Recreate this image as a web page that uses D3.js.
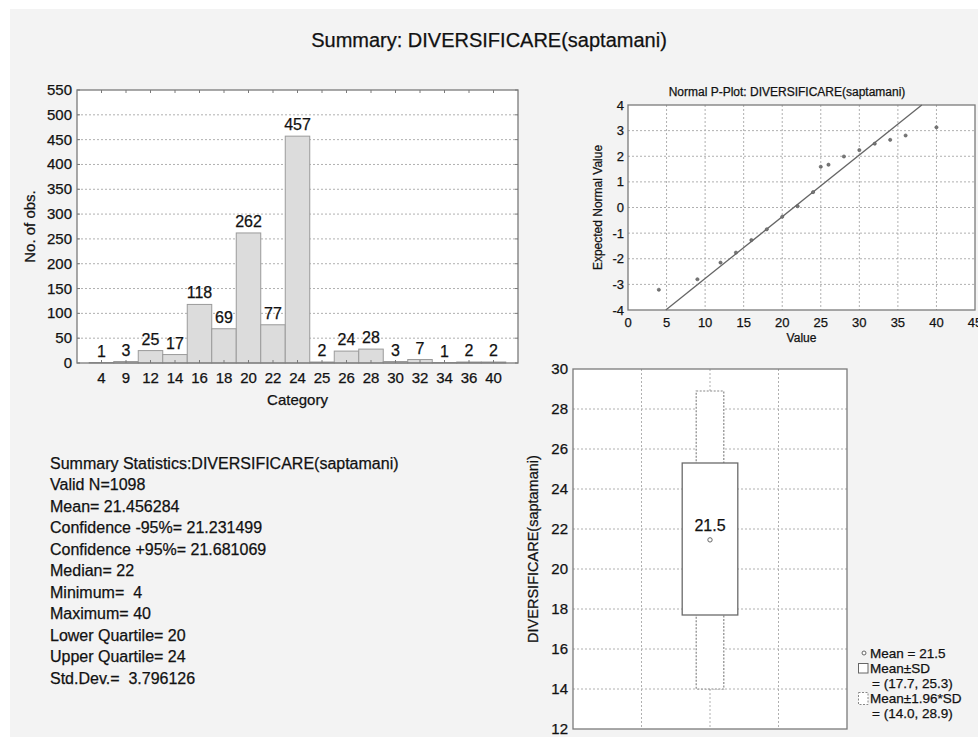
<!DOCTYPE html>
<html>
<head>
<meta charset="utf-8">
<script src="https://cdn.jsdelivr.net/npm/d3@7/dist/d3.min.js"></script>
<style>
  html, body { margin: 0; padding: 0; background: #ffffff; }
  svg { display: block; }
  text { font-family: Arial, "Liberation Sans", sans-serif; fill: #111; stroke: #111; stroke-width: 0.25px; }
</style>
</head>
<body>
<svg id="chart" width="978" height="737"></svg>
<script>
// ---------- DATA ----------
const title = "Summary: DIVERSIFICARE(saptamani)";
const categories = ["4","9","12","14","16","18","20","22","24","25","26","28","30","32","34","36","40"];
const counts = [1,3,25,17,118,69,262,77,457,2,24,28,3,7,1,2,2];
const histYTicks = [0,50,100,150,200,250,300,350,400,450,500,550];

const ppValues = [4,9,12,14,16,18,20,22,24,25,26,28,30,32,34,36,40];
const ppExpected = [-3.21,-2.80,-2.15,-1.76,-1.27,-0.85,-0.36,0.05,0.60,1.59,1.67,1.99,2.24,2.49,2.64,2.81,3.13];
const ppLineX = [4.9, 38.1];
const ppLineY = [-4, 4];
const ppXTicks = [0,5,10,15,20,25,30,35,40,45];
const ppYTicks = [-4,-3,-2,-1,0,1,2,3,4];

const boxMean = 21.456284;
const boxSD = [17.7, 25.3];
const box196 = [14.0, 28.9];
const boxYTicks = [12,14,16,18,20,22,24,26,28,30];

const statsLines = [
  "Summary Statistics:DIVERSIFICARE(saptamani)",
  "Valid N=1098",
  "Mean= 21.456284",
  "Confidence -95%= 21.231499",
  "Confidence +95%= 21.681069",
  "Median= 22",
  "Minimum=  4",
  "Maximum= 40",
  "Lower Quartile= 20",
  "Upper Quartile= 24",
  "Std.Dev.=  3.796126"
];
const legendLines = ["Mean = 21.5", "Mean\u00B1SD", "= (17.7, 25.3)", "Mean\u00B11.96*SD", "= (14.0, 28.9)"];

// ---------- DRAW ----------
const svg = d3.select("#chart");
svg.append("rect").attr("x",10).attr("y",9).attr("width",968).attr("height",728).attr("fill","#f3f3f3");

svg.append("text").attr("x",489).attr("y",47).attr("text-anchor","middle")
  .style("font-size","20px").text(title);

const frameColor = "#7a7a7a", gridColor = "#b0b0b0";

// ---- Histogram ----
{
  const L=77, R=518, T=90, B=363;
  const x = d3.scaleBand().domain(categories).range([L,R]).paddingInner(0).paddingOuter(0.5);
  const y = d3.scaleLinear().domain([0,550]).range([B,T]);
  const g = svg.append("g");
  g.append("rect").attr("x",L).attr("y",T).attr("width",R-L).attr("height",B-T).attr("fill","#fff");
  g.selectAll(".hg").data(histYTicks.filter(d=>d>0 && d<550)).join("line")
    .attr("x1",L).attr("x2",R).attr("y1",d=>y(d)).attr("y2",d=>y(d))
    .attr("stroke",gridColor).attr("stroke-dasharray","2,2");
  g.selectAll(".bar").data(counts).join("rect")
    .attr("x",(d,i)=>x(categories[i])).attr("width",x.bandwidth())
    .attr("y",d=>y(d)).attr("height",d=>y(0)-y(d))
    .attr("fill","#dcdcdc").attr("stroke","#9a9a9a").attr("stroke-width",1);
  g.append("rect").attr("x",L).attr("y",T).attr("width",R-L).attr("height",B-T)
    .attr("fill","none").attr("stroke",frameColor).attr("stroke-width",1.3);
  g.selectAll(".tt").data(categories).join("line")
    .attr("x1",d=>x(d)+x.bandwidth()/2).attr("x2",d=>x(d)+x.bandwidth()/2)
    .attr("y1",T).attr("y2",T+3).attr("stroke",frameColor);
  g.selectAll(".bt").data(categories).join("line")
    .attr("x1",d=>x(d)+x.bandwidth()/2).attr("x2",d=>x(d)+x.bandwidth()/2)
    .attr("y1",B).attr("y2",B-3).attr("stroke",frameColor);
  g.selectAll(".rt").data(histYTicks).join("line")
    .attr("x1",R).attr("x2",R-3).attr("y1",d=>y(d)).attr("y2",d=>y(d)).attr("stroke",frameColor);
  g.selectAll(".lt").data(histYTicks).join("line")
    .attr("x1",L).attr("x2",L+3).attr("y1",d=>y(d)).attr("y2",d=>y(d)).attr("stroke",frameColor);
  g.selectAll(".yl").data(histYTicks).join("text")
    .attr("x",L-5).attr("y",d=>y(d)+5).attr("text-anchor","end").style("font-size","15px").text(d=>d);
  g.selectAll(".xl").data(categories).join("text")
    .attr("x",d=>x(d)+x.bandwidth()/2).attr("y",383).attr("text-anchor","middle").style("font-size","15px").text(d=>d);
  g.selectAll(".vl").data(counts).join("text")
    .attr("x",(d,i)=>x(categories[i])+x.bandwidth()/2).attr("y",d=>y(d)-6)
    .attr("text-anchor","middle").style("font-size","16px").text(d=>d);
  g.append("text").attr("x",(L+R)/2).attr("y",405).attr("text-anchor","middle").style("font-size","15px").text("Category");
  g.append("text").attr("transform",`translate(35,${(T+B)/2}) rotate(-90)`).attr("text-anchor","middle")
    .style("font-size","15px").text("No. of obs.");
}

// ---- Normal P-Plot ----
{
  const L=628, R=975, T=105, B=310;
  const x = d3.scaleLinear().domain([0,45]).range([L,R]);
  const y = d3.scaleLinear().domain([-4,4]).range([B,T]);
  const g = svg.append("g");
  g.append("rect").attr("x",L).attr("y",T).attr("width",R-L).attr("height",B-T).attr("fill","#fff");
  g.selectAll(".vg").data(ppXTicks.filter(d=>d>0&&d<45)).join("line")
    .attr("x1",d=>x(d)).attr("x2",d=>x(d)).attr("y1",T).attr("y2",B)
    .attr("stroke",gridColor).attr("stroke-dasharray","2,2");
  g.selectAll(".hg").data(ppYTicks.filter(d=>d>-4&&d<4)).join("line")
    .attr("x1",L).attr("x2",R).attr("y1",d=>y(d)).attr("y2",d=>y(d))
    .attr("stroke",gridColor).attr("stroke-dasharray","2,2");
  g.append("rect").attr("x",L).attr("y",T).attr("width",R-L).attr("height",B-T)
    .attr("fill","none").attr("stroke",frameColor).attr("stroke-width",1.3);
  g.append("line").attr("x1",x(ppLineX[0])).attr("y1",y(ppLineY[0])).attr("x2",x(ppLineX[1])).attr("y2",y(ppLineY[1]))
    .attr("stroke","#666").attr("stroke-width",1.3);
  g.selectAll(".pt").data(ppValues).join("circle")
    .attr("cx",d=>x(d)).attr("cy",(d,i)=>y(ppExpected[i])).attr("r",1.6)
    .attr("fill","#777").attr("stroke","#555").attr("stroke-width",0.6);
  g.selectAll(".yl").data(ppYTicks).join("text")
    .attr("x",L-4).attr("y",d=>y(d)+4.5).attr("text-anchor","end").style("font-size","13px").text(d=>d);
  g.selectAll(".xl").data(ppXTicks).join("text")
    .attr("x",d=>x(d)).attr("y",327).attr("text-anchor","middle").style("font-size","13px").text(d=>d);
  g.append("text").attr("x",787).attr("y",96).attr("text-anchor","middle").style("font-size","12px")
    .text("Normal P-Plot: DIVERSIFICARE(saptamani)");
  g.append("text").attr("x",(L+R)/2).attr("y",342).attr("text-anchor","middle").style("font-size","12px").text("Value");
  g.append("text").attr("transform",`translate(602,${(T+B)/2}) rotate(-90)`).attr("text-anchor","middle")
    .style("font-size","12px").text("Expected Normal Value");
}

// ---- Box plot ----
{
  const L=573, R=847, T=369, B=729;
  const x = d3.scaleLinear().domain([0,4]).range([L,R]);
  const y = d3.scaleLinear().domain([12,30]).range([B,T]);
  const g = svg.append("g");
  g.append("rect").attr("x",L).attr("y",T).attr("width",R-L).attr("height",B-T).attr("fill","#fff");
  g.selectAll(".vg").data([1,2,3]).join("line")
    .attr("x1",d=>x(d)).attr("x2",d=>x(d)).attr("y1",T).attr("y2",B)
    .attr("stroke",gridColor).attr("stroke-dasharray","2,2");
  g.selectAll(".hg").data(boxYTicks.filter(d=>d>12&&d<30)).join("line")
    .attr("x1",L).attr("x2",R).attr("y1",d=>y(d)).attr("y2",d=>y(d))
    .attr("stroke",gridColor).attr("stroke-dasharray","2,2");
  g.append("rect").attr("x",x(2)-13.8).attr("width",27.6)
    .attr("y",y(box196[1])).attr("height",y(box196[0])-y(box196[1]))
    .attr("fill","#fff").attr("stroke","#888").attr("stroke-width",1.2).attr("stroke-dasharray","2,1.5");
  g.append("rect").attr("x",x(2)-27.8).attr("width",55.6)
    .attr("y",y(boxSD[1])).attr("height",y(boxSD[0])-y(boxSD[1]))
    .attr("fill","#fff").attr("stroke","#6a6a6a").attr("stroke-width",1.3);
  g.append("circle").attr("cx",x(2)).attr("cy",y(boxMean)).attr("r",2.2)
    .attr("fill","#fff").attr("stroke","#666").attr("stroke-width",1);
  g.append("text").attr("x",x(2)).attr("y",y(boxMean)-9).attr("text-anchor","middle")
    .style("font-size","16px").text(boxMean.toFixed(1));
  g.append("rect").attr("x",L).attr("y",T).attr("width",R-L).attr("height",B-T)
    .attr("fill","none").attr("stroke",frameColor).attr("stroke-width",1.3);
  g.selectAll(".yl").data(boxYTicks).join("text")
    .attr("x",L-5).attr("y",d=>y(d)+5).attr("text-anchor","end").style("font-size","15px").text(d=>d);
  g.append("text").attr("transform",`translate(538,${(T+B)/2}) rotate(-90)`).attr("text-anchor","middle")
    .style("font-size","14.5px").text("DIVERSIFICARE(saptamani)");
  const lg = svg.append("g");
  lg.append("circle").attr("cx",864).attr("cy",653).attr("r",2).attr("fill","#fff").attr("stroke","#666");
  lg.append("rect").attr("x",858.5).attr("y",663.5).attr("width",9.5).attr("height",9.5).attr("fill","#fff").attr("stroke","#666");
  lg.append("rect").attr("x",858.5).attr("y",692.5).attr("width",9.5).attr("height",12).attr("fill","#fff").attr("stroke","#888").attr("stroke-dasharray","2,1.5");
  const ly = [658, 673, 688, 703, 718];
  const lx = [870, 870, 872, 870, 872];
  lg.selectAll(".lt").data(legendLines).join("text")
    .attr("x",(d,i)=>lx[i]).attr("y",(d,i)=>ly[i]).style("font-size","13.5px").text(d=>d);
}

// ---- Stats text ----
svg.append("g").selectAll("text").data(statsLines).join("text")
  .attr("x",50).attr("y",(d,i)=>468.5+i*21.5).style("font-size","16px")
  .attr("xml:space","preserve").style("white-space","pre").text(d=>d);
</script>
</body>
</html>
